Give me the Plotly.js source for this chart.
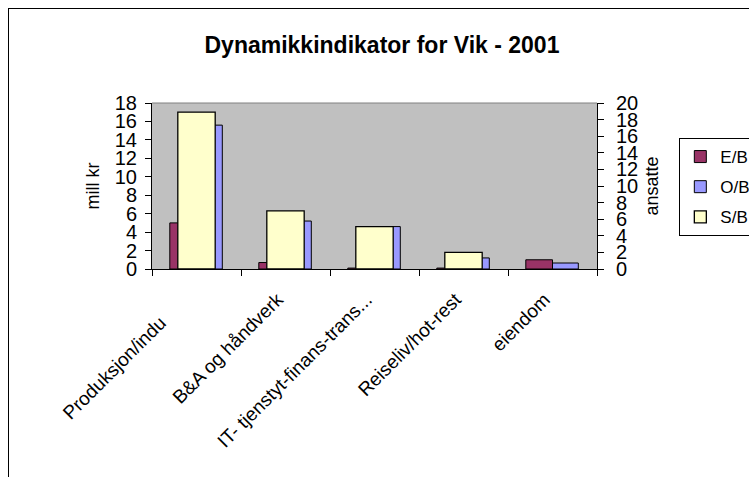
<!DOCTYPE html>
<html>
<head>
<meta charset="utf-8">
<script src="https://cdn.plot.ly/plotly-3.0.1.min.js"></script>
<style>
  body { margin: 0; background: #fff; }
  #plotDiv { width: 749px; height: 477px; position: relative; }
  #frame { position: absolute; left: 8px; top: 8px; width: 900px; height: 600px;
           border-left: 1px solid #000; border-top: 1px solid #000; pointer-events: none; }
</style>
</head>
<body>
<div id="plotDiv"></div>
<div id="frame"></div>
<script>
let categories = ["Produksjon/indu", "B&A og håndverk", "IT- tjenstyt-finans-trans...", "Reiseliv/hot-rest", "eiendom"];

// mill kr (left axis)
let eb = [5.0, 0.7, 0.1, 0.1, 1.0];
let ob = [15.6, 5.2, 4.6, 1.2, 0.65];
// ansatte (right axis)
let sb = [18.9, 7.0, 5.1, 2.0, null];

let font = "Liberation Sans, Arial, sans-serif";

// first label is clipped in the original, so it sits further down-left: draw it on its own axis
let mainLabels = categories.map((c, i) => i === 0 ? "" : c);

let data = [
  {
    x: categories, y: eb, name: "E/B", type: "bar",
    width: 0.3, offset: -0.3,
    marker: { color: "#993366", line: { color: "#000", width: 1 } },
    legendgroup: "a"
  },
  {
    x: categories, y: ob, name: "O/B", type: "bar",
    width: 0.29, offset: 0.0,
    marker: { color: "#9999FF", line: { color: "#000", width: 1 } },
    legendgroup: "b"
  },
  {
    x: categories, y: sb, name: "S/B", type: "bar", xaxis: "x2", yaxis: "y2",
    width: 0.42, offset: -0.21,
    marker: { color: "#FFFFCC", line: { color: "#000", width: 1.3 } },
    legendgroup: "c"
  }
];

let layout = {
  width: 749,
  height: 477,
  margin: { l: 152, r: 152, t: 103, b: 208, autoexpand: false },
  paper_bgcolor: "#fff",
  plot_bgcolor: "#C0C0C0",
  font: { family: font, size: 20, color: "#000" },
  title: {
    text: "<b>Dynamikkindikator for Vik - 2001</b>",
    font: { family: font, size: 23, color: "#000" },
    x: 0.51, xanchor: "center",
    y: 0.906, yref: "container", yanchor: "middle"
  },
  xaxis: {
    type: "category",
    tickvals: categories,
    ticktext: mainLabels,
    tickangle: -45,
    tickson: "boundaries",
    ticks: "outside", ticklen: 6, tickcolor: "#000",
    ticklabelstandoff: 11,
    ticklabelshift: -8,
    showline: true, linecolor: "#000", linewidth: 1,
    showgrid: false,
    tickfont: { size: 19 },
    automargin: false
  },
  xaxis2: {
    type: "category",
    overlaying: "x", matches: "x", anchor: "y2", side: "bottom",
    tickvals: [categories[0]],
    ticktext: [categories[0]],
    tickangle: -45,
    ticks: "",
    ticklabelstandoff: 38,
    ticklabelshift: -36,
    showline: false, showgrid: false, zeroline: false,
    tickfont: { size: 19 },
    automargin: false
  },
  yaxis: {
    range: [0, 18], dtick: 2,
    ticks: "outside", ticklen: 6, tickcolor: "#000",
    ticklabelstandoff: 4,
    showline: true, linecolor: "#000", linewidth: 1,
    showgrid: false, zeroline: false,
    title: { text: "mill kr", font: { size: 18 }, standoff: 10 },
    automargin: false
  },
  yaxis2: {
    overlaying: "y", side: "right", anchor: "x2",
    range: [0, 20], dtick: 2,
    ticks: "outside", ticklen: 6, tickcolor: "#000",
    ticklabelstandoff: 8,
    showline: true, linecolor: "#000", linewidth: 1,
    showgrid: false, zeroline: false,
    title: { text: "ansatte", font: { size: 18 }, standoff: 8 },
    automargin: false
  },
  showlegend: true,
  legend: {
    x: 1.185, xanchor: "left",
    y: 0.789, yanchor: "top",
    bgcolor: "#fff",
    bordercolor: "#000", borderwidth: 1,
    font: { size: 17 },
    traceorder: "grouped",
    tracegroupgap: 5,
    itemwidth: 30
  },
  shapes: [
    { type: "line", xref: "paper", yref: "paper", x0: 0, x1: 1, y0: 1, y1: 1,
      line: { color: "#808080", width: 1 } }
  ]
};

Plotly.newPlot("plotDiv", data, layout, { staticPlot: true });
</script>
</body>
</html>
